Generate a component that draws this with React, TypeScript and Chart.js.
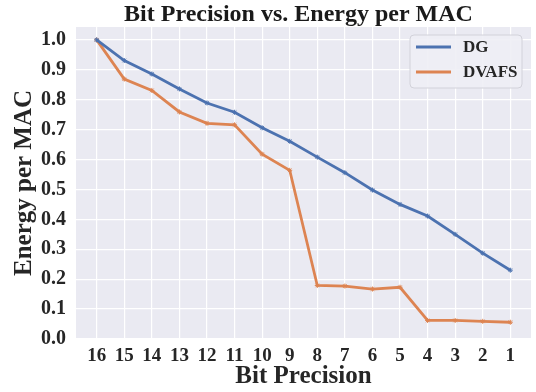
import React, { useEffect, useRef } from "react";
import { Chart, registerables } from "chart.js";

Chart.register(...registerables);

const bits = [16, 15, 14, 13, 12, 11, 10, 9, 8, 7, 6, 5, 4, 3, 2, 1];
const dgValues = [1.0, 0.931, 0.886, 0.836, 0.789, 0.758, 0.706, 0.661, 0.608, 0.556, 0.498, 0.45, 0.411, 0.35, 0.287, 0.23];
const dvafsValues = [1.0, 0.869, 0.831, 0.759, 0.721, 0.716, 0.618, 0.564, 0.179, 0.177, 0.167, 0.173, 0.062, 0.062, 0.059, 0.056];
const yTicks = [0, 0.1, 0.2, 0.3, 0.4, 0.5, 0.6, 0.7, 0.8, 0.9, 1.0];
const chartTitle = "Bit Precision vs. Energy per MAC";

const FONT = "'Liberation Serif', 'Times New Roman', serif";
const BLUE = "#4C72B0";
const ORANGE = "#DD8452";
const TEXT = "#262626";

const bgPlugin = {
  id: "bgPlugin",
  beforeDraw(chart: any) {
    const { ctx, chartArea } = chart;
    ctx.save();
    ctx.fillStyle = "#EAEAF2";
    ctx.fillRect(chartArea.left, chartArea.top, chartArea.right - chartArea.left, chartArea.bottom - chartArea.top);
    ctx.restore();
  },
};

const titlePlugin = {
  id: "axesTitle",
  afterDraw(chart: any) {
    const { ctx, chartArea } = chart;
    ctx.save();
    ctx.fillStyle = "#1a1a1a";
    ctx.font = `bold 24px ${FONT}`;
    ctx.textAlign = "center";
    ctx.textBaseline = "alphabetic";
    ctx.fillText(chartTitle, (chartArea.left + chartArea.right) / 2 - 5, 21);
    ctx.restore();
  },
};

const legendPlugin = {
  id: "innerLegend",
  afterDraw(chart: any) {
    const { ctx, chartArea } = chart;
    const w = 112;
    const h = 53;
    const x = chartArea.right - 9 - w;
    const y = chartArea.top + 8;
    ctx.save();
    ctx.beginPath();
    const r = 4;
    ctx.moveTo(x + r, y);
    ctx.arcTo(x + w, y, x + w, y + h, r);
    ctx.arcTo(x + w, y + h, x, y + h, r);
    ctx.arcTo(x, y + h, x, y, r);
    ctx.arcTo(x, y, x + w, y, r);
    ctx.closePath();
    ctx.fillStyle = "rgba(238,238,245,0.9)";
    ctx.fill();
    ctx.strokeStyle = "#D2D2DA";
    ctx.lineWidth = 1;
    ctx.stroke();
    chart.data.datasets.forEach((ds: any, i: number) => {
      const cy = y + 12 + i * 25;
      ctx.strokeStyle = ds.borderColor;
      ctx.lineWidth = 3;
      ctx.beginPath();
      ctx.moveTo(x + 6, cy);
      ctx.lineTo(x + 41, cy);
      ctx.stroke();
      ctx.fillStyle = TEXT;
      ctx.font = `bold 17px ${FONT}`;
      ctx.textBaseline = "middle";
      ctx.textAlign = "left";
      ctx.fillText(ds.label, x + 53, cy + 1);
    });
    ctx.restore();
  },
};

export default function App() {
  const ref = useRef<HTMLCanvasElement>(null);
  useEffect(() => {
    document.body.style.margin = "0";
    const chart = new Chart(ref.current as HTMLCanvasElement, {
      type: "line",
      data: {
        datasets: [
          {
            label: "DG",
            data: bits.map((b, i) => ({ x: b, y: dgValues[i] })),
            borderColor: BLUE,
            backgroundColor: BLUE,
            borderWidth: 2.8,
            pointStyle: "star",
            pointRadius: 2.5,
            pointBorderWidth: 1,
            tension: 0,
          },
          {
            label: "DVAFS",
            data: bits.map((b, i) => ({ x: b, y: dvafsValues[i] })),
            borderColor: ORANGE,
            backgroundColor: ORANGE,
            borderWidth: 2.8,
            pointStyle: "star",
            pointRadius: 2.5,
            pointBorderWidth: 1,
            tension: 0,
          },
        ],
      },
      options: {
        animation: false,
        responsive: false,
        layout: { padding: { left: 0, right: 2, top: 27, bottom: 0 } },
        plugins: {
          legend: { display: false },
          tooltip: { enabled: false },
          title: { display: false },
        },
        scales: {
          x: {
            type: "linear",
            reverse: true,
            min: 0.25,
            max: 16.75,
            afterBuildTicks(scale: any) {
              scale.ticks = bits.map((b) => ({ value: b }));
            },
            afterFit(scale: any) {
              scale.height = 53;
              scale.paddingLeft = 0;
              scale.paddingRight = 0;
            },
            grid: { color: "#FFFFFF", lineWidth: 1.2, drawTicks: false },
            border: { display: false },
            ticks: {
              color: TEXT,
              font: { family: FONT, size: 19, weight: "bold" },
              padding: 6,
              callback: (v: any) => String(v),
              maxRotation: 0,
              autoSkip: false,
            },
            title: {
              display: true,
              text: "Bit Precision",
              color: TEXT,
              font: { family: FONT, size: 25, weight: "bold", lineHeight: 1.0 },
              padding: { top: 0, bottom: 3 },
            },
          },
          y: {
            type: "linear",
            min: 0,
            max: 1.043,
            afterBuildTicks(scale: any) {
              scale.ticks = yTicks.map((v) => ({ value: v }));
            },
            afterFit(scale: any) {
              scale.width = 76;
              scale.paddingTop = 0;
              scale.paddingBottom = 0;
            },
            grid: { color: "#FFFFFF", lineWidth: 1.2, drawTicks: false },
            border: { display: false },
            ticks: {
              color: TEXT,
              font: { family: FONT, size: 20, weight: "bold" },
              padding: 10,
              callback: (v: any) => Number(v).toFixed(1),
            },
            title: {
              display: true,
              text: "Energy per MAC",
              color: TEXT,
              font: { family: FONT, size: 25, weight: "bold", lineHeight: 1.0 },
              padding: { top: 12, bottom: 0 },
            },
          },
        },
      },
      plugins: [bgPlugin, titlePlugin, legendPlugin],
    });
    return () => chart.destroy();
  }, []);
  return (
    <div style={{ width: 536, height: 392 }}>
      <canvas ref={ref} width={536} height={392} style={{ display: "block" }} />
    </div>
  );
}
